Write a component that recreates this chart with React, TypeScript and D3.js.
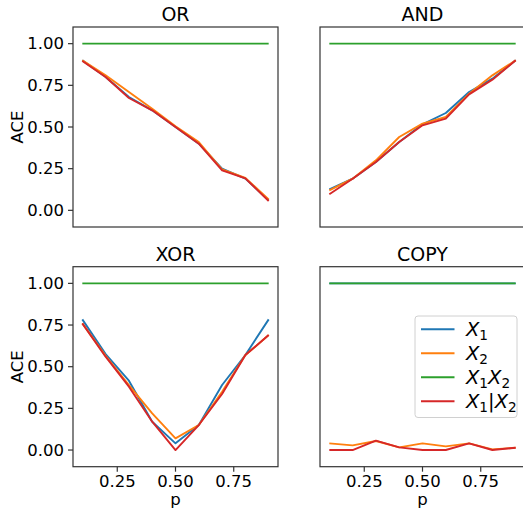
import React from 'react';
import * as d3 from 'd3';

const pValues = [0.1, 0.2, 0.3, 0.4, 0.5, 0.6, 0.7, 0.8, 0.9];

const orX1 = [0.9, 0.8, 0.68, 0.6, 0.5, 0.4, 0.25, 0.19, 0.06];
const orX2 = [0.9, 0.81, 0.71, 0.61, 0.505, 0.41, 0.245, 0.195, 0.065];
const orX1X2 = [1, 1, 1, 1, 1, 1, 1, 1, 1];
const orX1givenX2 = [0.896, 0.8, 0.674, 0.6, 0.5, 0.4, 0.24, 0.192, 0.056];

const andX1 = [0.126, 0.19, 0.29, 0.41, 0.516, 0.584, 0.71, 0.79, 0.9];
const andX2 = [0.12, 0.19, 0.3, 0.44, 0.52, 0.56, 0.7, 0.81, 0.9];
const andX1X2 = [1, 1, 1, 1, 1, 1, 1, 1, 1];
const andX1givenX2 = [0.096, 0.19, 0.29, 0.41, 0.51, 0.55, 0.696, 0.784, 0.9];

const xorX1 = [0.784, 0.576, 0.416, 0.17, 0.04, 0.15, 0.39, 0.57, 0.784];
const xorX2 = [0.76, 0.565, 0.39, 0.22, 0.07, 0.15, 0.35, 0.57, 0.69];
const xorX1X2 = [1, 1, 1, 1, 1, 1, 1, 1, 1];
const xorX1givenX2 = [0.76, 0.56, 0.38, 0.17, 0.0, 0.15, 0.336, 0.57, 0.69];

const copyX1 = [1, 1, 1, 1, 1, 1, 1, 1, 1];
const copyX2 = [0.04, 0.028, 0.054, 0.016, 0.04, 0.022, 0.04, 0.004, 0.014];
const copyX1X2 = [1, 1, 1, 1, 1, 1, 1, 1, 1];
const copyX1givenX2 = [0, 0, 0.056, 0.016, 0, 0, 0.04, 0, 0.014];

const yTicks = [0, 0.25, 0.5, 0.75, 1.0];
const xTicks = [0.25, 0.5, 0.75];

const colors = ['#1f77b4', '#ff7f0e', '#2ca02c', '#d62728'];

interface Panel {
  title: string;
  series: number[][];
  left: number;
  top: number;
  showY: boolean;
  showX: boolean;
  legend?: boolean;
}

const axW = 205;
const axH = 200;
const font = 'DejaVu Sans, sans-serif';

const panels: Panel[] = [
  { title: 'OR', series: [orX1, orX2, orX1X2, orX1givenX2], left: 73, top: 27, showY: true, showX: false },
  { title: 'AND', series: [andX1, andX2, andX1X2, andX1givenX2], left: 320, top: 27, showY: false, showX: false },
  { title: 'XOR', series: [xorX1, xorX2, xorX1X2, xorX1givenX2], left: 73, top: 266.7, showY: true, showX: true },
  { title: 'COPY', series: [copyX1, copyX2, copyX1X2, copyX1givenX2], left: 320, top: 266.7, showY: false, showX: true, legend: true },
];

const Sub: React.FC<{ n: string }> = ({ n }) => (
  <tspan fontStyle="normal" fontSize="0.7em" dy="4">{n}</tspan>
);

const legendLabels: React.ReactNode[] = [
  <>X<Sub n="1" /></>,
  <>X<Sub n="2" /></>,
  <>X<Sub n="1" /><tspan dy="-4">X</tspan><Sub n="2" /></>,
  <>X<Sub n="1" /><tspan dy="-4" fontStyle="normal">|</tspan>X<Sub n="2" /></>,
];

const AxesPanel: React.FC<{ panel: Panel }> = ({ panel }) => {
  const x = d3.scaleLinear().domain([0.06, 0.94]).range([0, axW]);
  const y = d3.scaleLinear().domain([-0.1, 1.1]).range([axH, 0]);
  const line = d3
    .line<number>()
    .x((d, i) => x(pValues[i]))
    .y((d) => y(d));

  return (
    <g transform={`translate(${panel.left}, ${panel.top})`}>
      <defs>
        <clipPath id={`clip-${panel.title}`}>
          <rect width={axW} height={axH} />
        </clipPath>
      </defs>
      <g clipPath={`url(#clip-${panel.title})`}>
        {panel.series.map((s, i) => (
          <path key={i} d={line(s) || ''} fill="none" stroke={colors[i]} strokeWidth={1.9} strokeLinejoin="round" />
        ))}
      </g>
      <rect width={axW} height={axH} fill="none" stroke="#333" strokeWidth={1.2} />
      <text x={axW / 2} y={-6} textAnchor="middle" fontSize={19} fontFamily={font}>{panel.title}</text>
      {panel.showY && (
        <g>
          {yTicks.map((t) => (
            <g key={t} transform={`translate(0, ${y(t)})`}>
              <line x1={-5} x2={0} stroke="#333" strokeWidth={1.2} />
              <text x={-9} dy="0.35em" textAnchor="end" fontSize={16.5} fontFamily={font}>{d3.format('.2f')(t)}</text>
            </g>
          ))}
          <text transform={`translate(-50, ${axH / 2}) rotate(-90)`} textAnchor="middle" fontSize={16.5} fontFamily={font}>ACE</text>
        </g>
      )}
      {panel.showX && (
        <g transform={`translate(0, ${axH})`}>
          {xTicks.map((t) => (
            <g key={t} transform={`translate(${x(t)}, 0)`}>
              <line y1={0} y2={5} stroke="#333" strokeWidth={1.2} />
              <text y={20} textAnchor="middle" fontSize={16.5} fontFamily={font}>{d3.format('.2f')(t)}</text>
            </g>
          ))}
          <text x={axW / 2} y={38} textAnchor="middle" fontSize={16.5} fontFamily={font}>p</text>
        </g>
      )}
      {panel.legend && (
        <g transform="translate(95, 49.3)">
          <rect width={102} height={101.5} rx={3} fill="white" fillOpacity={0.8} stroke="#d0d0d0" strokeWidth={1} />
          {legendLabels.map((label, i) => (
            <g key={i} transform={`translate(0, ${13.3 + i * 24})`}>
              <line x1={6} x2={39.5} stroke={colors[i]} strokeWidth={1.9} />
              <text x={51} dy="0.35em" fontSize={19.5} fontStyle="italic" fontFamily={font}>{label}</text>
            </g>
          ))}
        </g>
      )}
    </g>
  );
};

export default function App() {
  return (
    <svg
      width={523}
      height={514}
      style={{ position: 'absolute', left: 0, top: 0, background: 'white' }}
    >
      {panels.map((p) => (
        <AxesPanel key={p.title} panel={p} />
      ))}
    </svg>
  );
}
